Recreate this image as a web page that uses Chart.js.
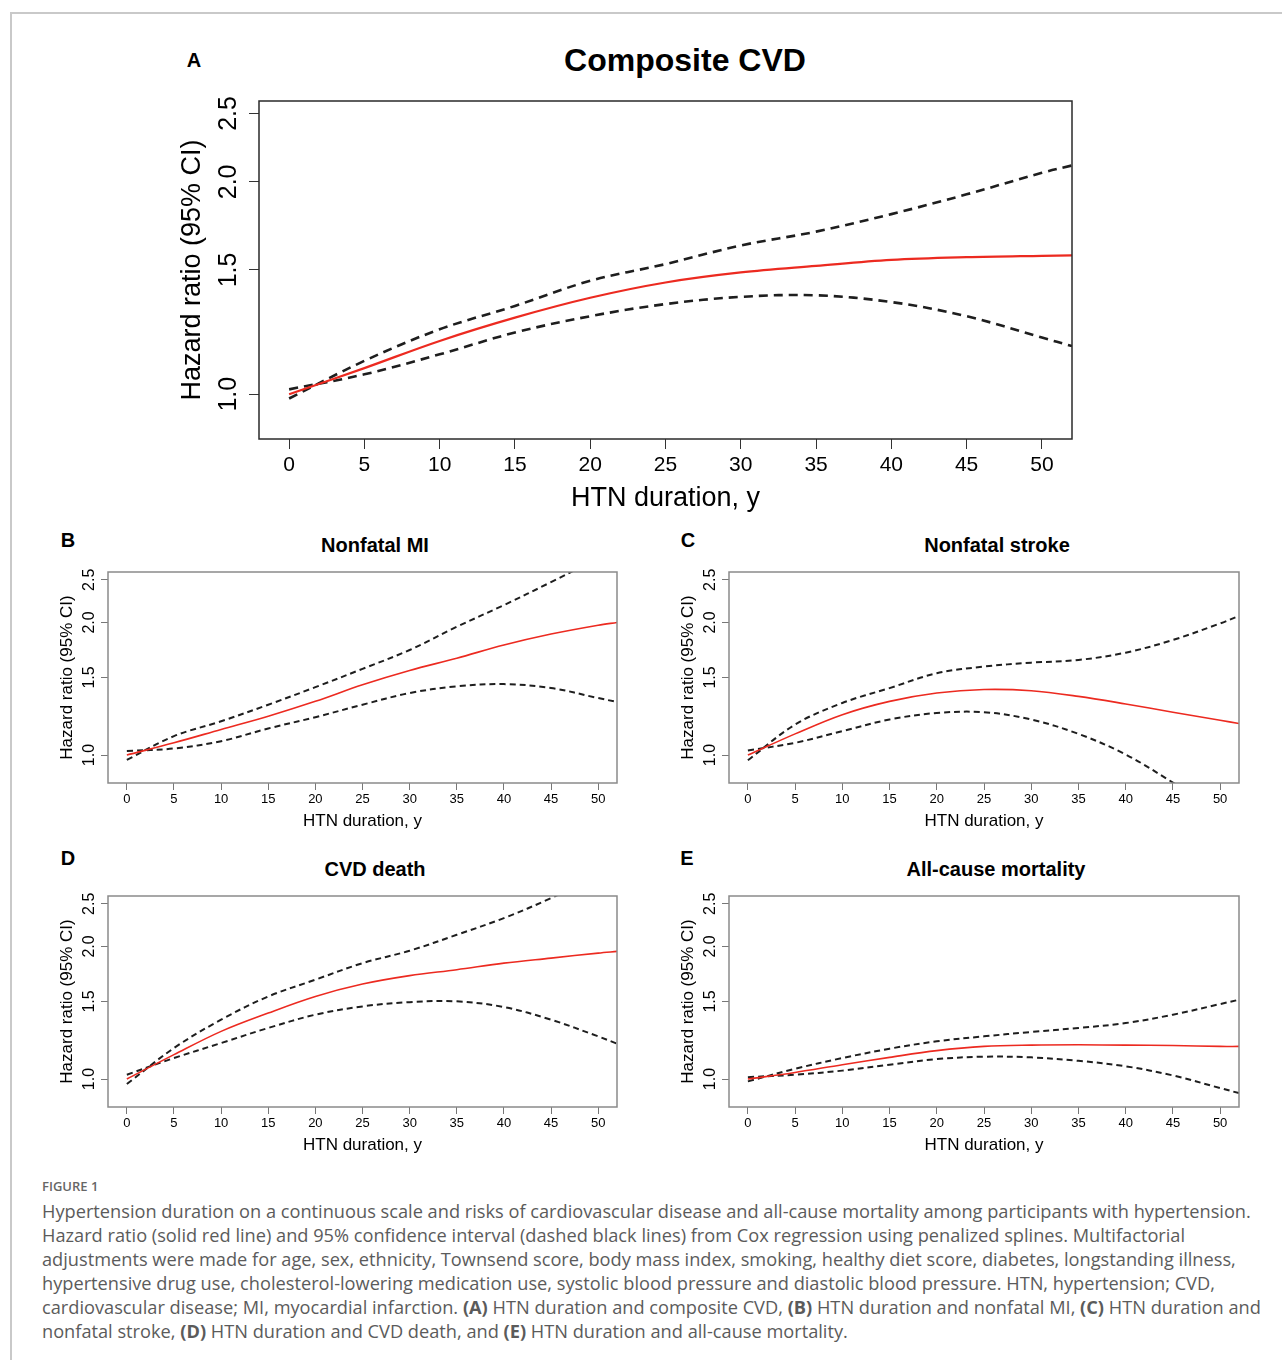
<!DOCTYPE html>
<html>
<head>
<meta charset="utf-8">
<script src="https://cdn.jsdelivr.net/npm/chart.js@4.4.1/dist/chart.umd.min.js"></script>
<style>
  body { margin: 0; background: #fff; width: 1282px; height: 1360px; position: relative; overflow: hidden; font-family: "Liberation Sans", Arial, sans-serif; }
  #frame { position: absolute; left: 10px; top: 12px; width: 1290px; height: 1400px; border-left: 2px solid #c9c9c9; border-top: 2px solid #c9c9c9; }
  canvas { position: absolute; }
  .letter { position: absolute; font-weight: bold; color: #000; transform: translate(-50%, -50%); line-height: 1; }
  .ptitle { position: absolute; font-weight: bold; color: #000; transform: translate(-50%, -50%); white-space: nowrap; line-height: 1; }
  #caption { position: absolute; left: 42px; top: 0; color: #5b5b5b; font-family: "Open Sans", sans-serif; }
  #caption .head { position: absolute; left: 0; top: 1177px; font-size: 13px; font-weight: 600; white-space: nowrap; color: #666; line-height: 18px; }
  #caption .ln { position: absolute; left: 0; white-space: nowrap; line-height: 24px; }
  #caption b { font-weight: 700; }
</style>
</head>
<body>
<div id="frame"></div>

<div class="letter" style="left:194px;top:60px;font-size:20px">A</div>
<div class="ptitle" style="left:685px;top:60px;font-size:32px">Composite CVD</div>
<canvas id="chartA"></canvas>

<div class="letter" style="left:68px;top:540px;font-size:20px">B</div>
<div class="ptitle" style="left:375px;top:545px;font-size:20px">Nonfatal MI</div>
<canvas id="chartB"></canvas>

<div class="letter" style="left:688px;top:540px;font-size:20px">C</div>
<div class="ptitle" style="left:997px;top:545px;font-size:20px">Nonfatal stroke</div>
<canvas id="chartC"></canvas>

<div class="letter" style="left:68px;top:858px;font-size:20px">D</div>
<div class="ptitle" style="left:375px;top:869px;font-size:20px">CVD death</div>
<canvas id="chartD"></canvas>

<div class="letter" style="left:687px;top:858px;font-size:20px">E</div>
<div class="ptitle" style="left:996px;top:869px;font-size:20px">All-cause mortality</div>
<canvas id="chartE"></canvas>

<div id="caption">
  <div class="head">FIGURE 1</div>
  <div class="ln" style="top:1199px">Hypertension duration on a continuous scale and risks of cardiovascular disease and all-cause mortality among participants with hypertension.</div>
  <div class="ln" style="top:1223px">Hazard ratio (solid red line) and 95% confidence interval (dashed black lines) from Cox regression using penalized splines. Multifactorial</div>
  <div class="ln" style="top:1247px">adjustments were made for age, sex, ethnicity, Townsend score, body mass index, smoking, healthy diet score, diabetes, longstanding illness,</div>
  <div class="ln" style="top:1271px">hypertensive drug use, cholesterol-lowering medication use, systolic blood pressure and diastolic blood pressure. HTN, hypertension; CVD,</div>
  <div class="ln" style="top:1295px">cardiovascular disease; MI, myocardial infarction. <b>(A)</b> HTN duration and composite CVD, <b>(B)</b> HTN duration and nonfatal MI, <b>(C)</b> HTN duration and</div>
  <div class="ln" style="top:1319px">nonfatal stroke, <b>(D)</b> HTN duration and CVD death, and <b>(E)</b> HTN duration and all-cause mortality.</div>
</div>

<script>
'use strict';

const years = [0, 5, 10, 15, 20, 25, 30, 35, 40, 45, 50, 52];
const xTicks = [0, 5, 10, 15, 20, 25, 30, 35, 40, 45, 50];
const yTicks = [1.0, 1.5, 2.0, 2.5];

// A: composite CVD
const cvdHR    = [1.0, 1.089, 1.19, 1.284, 1.37, 1.44, 1.488, 1.52, 1.55, 1.564, 1.571, 1.573];
const cvdUpper = [0.986, 1.115, 1.236, 1.334, 1.448, 1.529, 1.625, 1.70, 1.80, 1.92, 2.06, 2.11];
const cvdLower = [1.016, 1.067, 1.139, 1.223, 1.29, 1.342, 1.374, 1.381, 1.351, 1.29, 1.203, 1.17];

// B: nonfatal MI
const miHR    = [1.0, 1.066, 1.143, 1.225, 1.324, 1.444, 1.556, 1.659, 1.778, 1.883, 1.972, 2.0];
const miUpper = [0.975, 1.104, 1.193, 1.301, 1.426, 1.569, 1.732, 1.955, 2.19, 2.47, 2.8, 2.95];
const miLower = [1.021, 1.035, 1.075, 1.149, 1.219, 1.301, 1.383, 1.432, 1.449, 1.42, 1.347, 1.32];

// C: nonfatal stroke
const strokeHR    = [1.0, 1.117, 1.235, 1.324, 1.383, 1.409, 1.40, 1.359, 1.306, 1.251, 1.2, 1.179];
const strokeUpper = [0.973, 1.173, 1.313, 1.419, 1.534, 1.588, 1.621, 1.644, 1.708, 1.825, 1.99, 2.07];
const strokeLower = [1.024, 1.066, 1.133, 1.204, 1.246, 1.251, 1.204, 1.117, 1.003, 0.866, 0.74, 0.70];

// D: CVD death
const deathHR    = [1.0, 1.136, 1.283, 1.412, 1.54, 1.643, 1.717, 1.771, 1.833, 1.882, 1.932, 1.949];
const deathUpper = [0.974, 1.176, 1.364, 1.54, 1.681, 1.833, 1.956, 2.126, 2.32, 2.575, 2.9, 3.0];
const deathLower = [1.023, 1.116, 1.207, 1.306, 1.40, 1.462, 1.495, 1.501, 1.457, 1.364, 1.25, 1.203];

// E: all-cause mortality
const allHR    = [1.0, 1.035, 1.078, 1.12, 1.16, 1.186, 1.194, 1.196, 1.194, 1.192, 1.186, 1.186];
const allUpper = [0.988, 1.055, 1.116, 1.172, 1.218, 1.25, 1.279, 1.306, 1.34, 1.40, 1.48, 1.514];
const allLower = [1.01, 1.023, 1.045, 1.078, 1.11, 1.124, 1.12, 1.10, 1.069, 1.019, 0.954, 0.929];

const FONT = '"Liberation Sans", Arial, sans-serif';

// draws the R-style box and the rotated y tick labels
const rBoxPlugin = {
  id: 'rbox',
  afterDatasetsDraw(chart, args, opts) {
    const ctx = chart.ctx;
    const a = chart.chartArea;
    ctx.save();
    ctx.strokeStyle = opts.color;
    ctx.lineWidth = opts.width;
    ctx.strokeRect(a.left, a.top, a.right - a.left, a.bottom - a.top);

    const ys = chart.scales.y;
    ctx.fillStyle = '#000';
    ctx.font = opts.tickSize + 'px ' + FONT;
    ctx.textAlign = 'center';
    ctx.textBaseline = 'middle';
    yTicks.forEach(v => {
      const py = ys.getPixelForValue(v);
      ctx.save();
      ctx.translate(opts.labelX, py);
      ctx.rotate(-Math.PI / 2);
      ctx.fillText(v.toFixed(1), 0, 0);
      ctx.restore();
    });
    ctx.restore();
  }
};

function toPoints(arr) {
  return years.map((x, i) => ({ x: x, y: arr[i] }));
}

function makePanel(id, p, hr, upper, lower) {
  const cv = document.getElementById(id);
  const W = p.cr - p.cl, H = p.cb - p.ct;
  cv.width = W; cv.height = H;
  cv.style.left = p.cl + 'px'; cv.style.top = p.ct + 'px';
  cv.style.width = W + 'px'; cv.style.height = H + 'px';

  const padL = p.box.l - p.cl;
  const padB = p.cb - p.box.b;
  const tickLH = p.xTickSize * 1.2;
  const titleLH = p.titleSize * 1.2;

  const dash = (data) => ({
    data: toPoints(data),
    borderColor: '#1e1e1e',
    borderWidth: p.dashWidth,
    borderDash: p.dash,
    pointRadius: 0,
    tension: 0.35,
    fill: false
  });

  return new Chart(cv, {
    type: 'line',
    data: {
      datasets: [
        {
          data: toPoints(hr),
          borderColor: '#ec2a20',
          borderWidth: p.redWidth,
          pointRadius: 0,
          tension: 0.35,
          fill: false
        },
        dash(upper),
        dash(lower)
      ]
    },
    options: {
      responsive: false,
      animation: false,
      devicePixelRatio: 1,
      layout: {
        autoPadding: false,
        padding: { top: p.box.t - p.ct, right: p.cr - p.box.r, left: 0, bottom: 0 }
      },
      plugins: {
        legend: { display: false },
        tooltip: { enabled: false },
        rbox: { color: p.boxColor, width: p.boxWidth, tickSize: p.yTickSize, labelX: p.yTickX - p.cl }
      },
      scales: {
        x: {
          type: 'linear',
          min: -2,
          max: 52,
          afterBuildTicks: s => { s.ticks = xTicks.map(v => ({ value: v })); },
          afterFit: s => { s.height = padB; },
          border: { display: false },
          grid: { drawOnChartArea: false, drawTicks: true, tickLength: p.tickLen, color: p.tickColor, lineWidth: 1 },
          ticks: {
            autoSkip: false, maxRotation: 0, minRotation: 0,
            color: '#000',
            font: { family: FONT, size: p.xTickSize },
            padding: p.xTickY - p.box.b - p.tickLen - tickLH / 2,
            callback: v => String(v)
          },
          title: {
            display: true,
            text: 'HTN duration, y',
            color: '#000',
            font: { family: FONT, size: p.titleSize },
            padding: { top: 0, bottom: p.cb - p.xTitleY - titleLH / 2 }
          }
        },
        y: {
          type: 'logarithmic',
          min: 0.864,
          max: 2.604,
          afterBuildTicks: s => { s.ticks = yTicks.map(v => ({ value: v })); },
          afterFit: s => { s.width = padL; },
          border: { display: false },
          grid: { drawOnChartArea: false, drawTicks: true, tickLength: p.tickLen, color: p.tickColor, lineWidth: 1 },
          ticks: { display: false },
          title: {
            display: true,
            text: 'Hazard ratio (95% CI)',
            color: '#000',
            font: { family: FONT, size: p.titleSize },
            padding: { top: p.yTitleX - p.cl - titleLH / 2, bottom: 0 }
          }
        }
      }
    },
    plugins: [rBoxPlugin]
  });
}

const small = {
  tickLen: 7, xTickSize: 13, yTickSize: 16, titleSize: 17,
  boxColor: '#8a8a8a', boxWidth: 1.5, tickColor: '#777',
  redWidth: 1.6, dashWidth: 2, dash: [6, 4]
};

makePanel('chartA', {
  cl: 150, ct: 90, cr: 1090, cb: 525,
  box: { l: 259, t: 101, r: 1072, b: 439 },
  yTickX: 229, yTitleX: 193, xTickY: 465, xTitleY: 499,
  tickLen: 10, xTickSize: 21, yTickSize: 25, titleSize: 27,
  boxColor: '#2a2a2a', boxWidth: 1.5, tickColor: '#333',
  redWidth: 2.2, dashWidth: 2.6, dash: [9, 6]
}, cvdHR, cvdUpper, cvdLower);

makePanel('chartB', Object.assign({}, small, {
  cl: 50, ct: 565, cr: 625, cb: 835,
  box: { l: 108, t: 572, r: 617, b: 783 },
  yTickX: 90, yTitleX: 67, xTickY: 799, xTitleY: 821
}), miHR, miUpper, miLower);

makePanel('chartC', Object.assign({}, small, {
  cl: 672, ct: 565, cr: 1247, cb: 835,
  box: { l: 729, t: 572, r: 1239, b: 783 },
  yTickX: 711, yTitleX: 688, xTickY: 799, xTitleY: 821
}), strokeHR, strokeUpper, strokeLower);

makePanel('chartD', Object.assign({}, small, {
  cl: 50, ct: 889, cr: 625, cb: 1159,
  box: { l: 108, t: 896, r: 617, b: 1107 },
  yTickX: 90, yTitleX: 67, xTickY: 1123, xTitleY: 1145
}), deathHR, deathUpper, deathLower);

makePanel('chartE', Object.assign({}, small, {
  cl: 672, ct: 889, cr: 1247, cb: 1159,
  box: { l: 729, t: 896, r: 1239, b: 1107 },
  yTickX: 711, yTitleX: 688, xTickY: 1123, xTitleY: 1145
}), allHR, allUpper, allLower);

// size the caption so its first line spans the same width as in the figure
const lines = document.querySelectorAll('#caption .ln');
lines.forEach(l => { l.style.fontSize = '100px'; });
const w1 = lines[0].getBoundingClientRect().width;
const capSize = 100 * 1210 / w1;
lines.forEach(l => { l.style.fontSize = capSize.toFixed(2) + 'px'; });
</script>
</body>
</html>
